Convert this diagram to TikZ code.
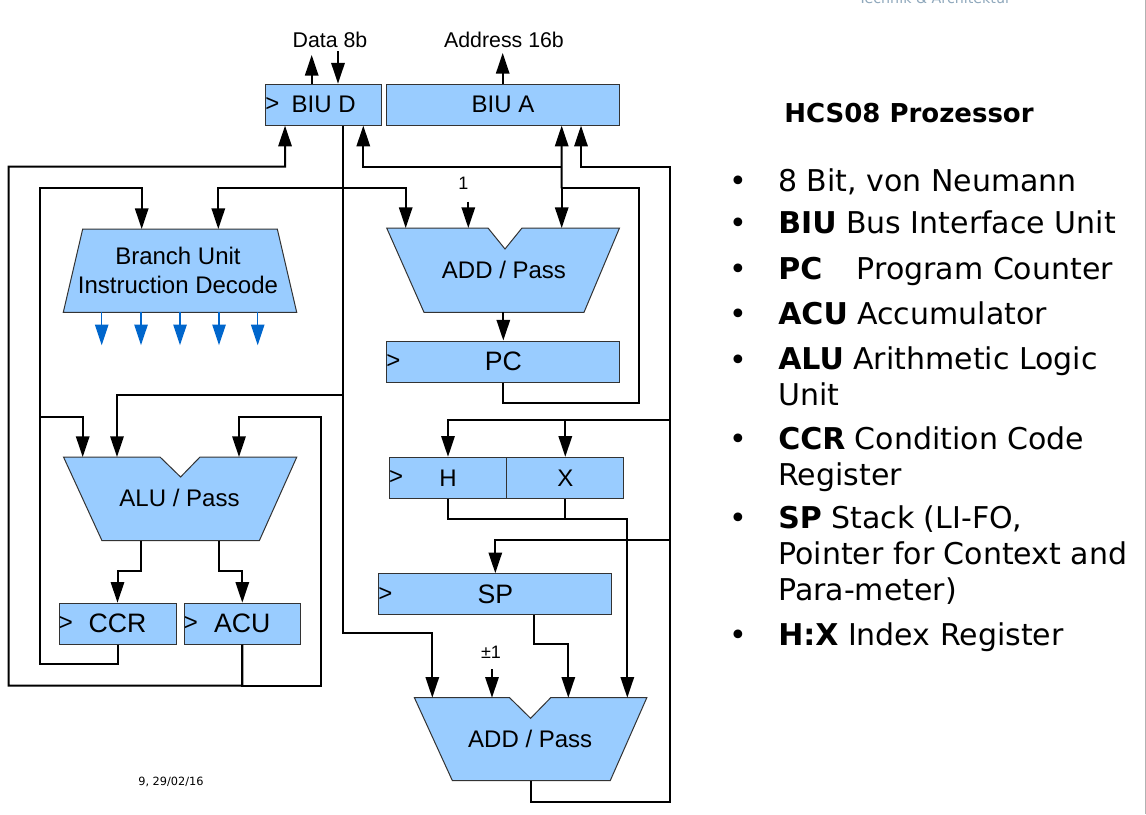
\documentclass[tikz,border=0pt]{standalone}
\usepackage{fontspec}
\setmainfont{Liberation Sans}
\newfontfamily\verd{DejaVu Sans}
\usetikzlibrary{arrows.meta}
\definecolor{boxblue}{HTML}{99CCFF}
\definecolor{boxline}{HTML}{333333}
\definecolor{ctlblue}{HTML}{0066CC}
\definecolor{hdrgray}{HTML}{8FA8BC}
\newcommand\boxfont{\fontsize{18}{21.6}\selectfont}
\newcommand\regfont{\fontsize{20}{24}\selectfont}
\newcommand\busfont{\fontsize{16}{19}\selectfont}
\newcommand\smlfont{\fontsize{13.5}{15}\selectfont}
\newcommand\itemfont{\verd\fontsize{22.5}{26.8}\selectfont}

\begin{document}
\begin{tikzpicture}
	[x=0.75pt,y=-0.75pt,
	bus/.style={line width=1.5pt},
	arr/.style={line width=1.5pt,-{Triangle[length=15.5pt,width=10pt]}},
	ctl/.style={line width=1.1pt,draw=ctlblue,fill=ctlblue,-{Triangle[length=15.5pt,width=10pt]}},
	reg/.style={draw=boxline,fill=boxblue,line width=0.75pt,inner sep=0pt,
		minimum height=30.75pt,font=\boxfont},
	clk/.style={label={[anchor=west,inner sep=0pt,font=\boxfont]west:>}},
	unit/.style={draw=boxline,fill=boxblue,line width=0.75pt},
	lbl/.style={inner sep=0pt,font=\boxfont,align=center},
	item/.style={anchor=base west,inner sep=0pt,align=left,font=\itemfont}]
	\path[use as bounding box,fill=white] (0,0) rectangle (1146,814);
	\draw[gray!60,line width=0.75pt] (1145.5,0) -- (1145.5,814);
	\node[anchor=base west,inner sep=0pt,text=hdrgray,font=\verd\fontsize{10.7}{12}\selectfont]
		(hdr) at (858,3) {Technik \& Architektur};
	
	% units
	\filldraw[unit] (82.7,229) -- (277.3,229) -- (296.7,312.3) -- (63.3,312.3) -- cycle;
	\filldraw[unit] (386.7,228) -- (488,228) -- (505,249) -- (522,228) -- (619.5,228)
		-- (584,312.3) -- (424,312.3) -- cycle;
	\filldraw[unit] (63.5,457) -- (160,457) -- (180.6,477) -- (200,457) -- (296.8,457)
		-- (259.3,540.7) -- (102,540.7) -- cycle;
	\filldraw[unit] (414.4,697.7) -- (509.6,697.7) -- (530.6,718.3) -- (550.7,697.7)
		-- (646.8,697.7) -- (610.2,780.7) -- (452.4,780.7) -- cycle;
	\node[lbl] (bu) at (178,270.8) {Branch Unit\\Instruction Decode};
	\node[lbl] (addpc) at (504,270) {ADD / Pass};
	\node[lbl] (alu) at (179.5,498) {ALU / Pass};
	\node[lbl] (addsp) at (530.2,739) {ADD / Pass};
	
	\coordinate (buA) at (141.7,229);
	\coordinate (buB) at (218.3,229);
	\coordinate (apA) at (405.7,228);
	\coordinate (apB) at (468.3,228);
	\coordinate (apC) at (561.7,228);
	\coordinate (apO) at (503.3,312.3);
	\coordinate (aluA) at (82.7,457);
	\coordinate (aluB) at (117,457);
	\coordinate (aluC) at (239,457);
	\coordinate (aluL) at (141.3,540.7);
	\coordinate (aluR) at (219,540.7);
	\coordinate (asA) at (432.3,697.7);
	\coordinate (asB) at (492,697.7);
	\coordinate (asC) at (568.3,697.7);
	\coordinate (asD) at (627.3,697.7);
	\coordinate (asO) at (530.6,780.7);
	
	% registers
	\node[reg,clk,minimum width=87pt] (biud) at (323.7,104.65) {BIU D};
	\node[reg,minimum width=174.5pt] (biua) at (503,104.65) {BIU A};
	\node[reg,clk,minimum width=175pt,font=\regfont] (pc) at (503.3,361.5) {PC};
	\node[reg,clk,minimum width=88pt] (hr) at (448,477.8) {H};
	\node[reg,minimum width=88pt] (xr) at (565.3,477.8) {X};
	\node[reg,clk,minimum width=175pt,font=\regfont] (sp) at (495.3,594.2) {SP};
	\node[reg,clk,minimum width=87.75pt,font=\regfont] (ccr) at (117.5,623.7) {CCR};
	\node[reg,clk,minimum width=87.2pt,font=\regfont] (acu) at (242.3,623.7) {ACU};
	
	\node[lbl,font=\busfont] (data) at (330,40) {Data 8b};
	\node[lbl,font=\busfont] (addr) at (504,40) {Address 16b};
	\node[lbl,font=\smlfont] (one) at (463.3,183) {1};
	\node[lbl,font=\smlfont] (pm) at (491,652) {±1};
	\coordinate (dout) at (311.7,55);
	\coordinate (din) at (338,51);
	\coordinate (aout) at (502.7,53);
	
	% external buses
	\draw[arr] (biud.north -| dout) -- (dout);
	\draw[arr] (din) -- (biud.north -| din);
	\draw[arr] (biua.north -| aout) -- (aout);
	
	% accumulator and ccr
	\draw[arr] (acu.south) |- (8.5,685.7) |- (285,166.7) -- ([xshift=-29pt]biud.south);
	\draw[arr] (acu.south) |- (321,685.7) |- (239,416.7) -- (aluC);
	\draw[arr] (ccr.south) |- (40.2,664.3) |- (141.7,188.3) -- (buA);
	\coordinate (ccrtap) at (40.2,416.7);
	\draw[arr] (ccrtap) -| (aluA);
	\draw[arr] (aluL) -- ++(0,30) -| (ccr.north);
	\draw[arr] (aluR) -- ++(0,30) -| (acu.north);
	
	% data bus
	\draw[arr] ([xshift=14.7pt]biud.south) |- (432.3,632.7) -- (asA);
	\coordinate (dt1) at (343.3,188.3);
	\coordinate (dt2) at (343.3,395);
	\draw[arr] (dt1) -| (buB);
	\draw[arr] (dt1) -| (apA);
	\draw[arr] (dt2) -| (aluB);
	\draw[arr] (apB |- 0,201.7) -- (apB);
	
	% program counter
	\coordinate (pcbus) at (561.7,188.3);
	\coordinate (pctap) at (561.7,166.7);
	\draw[bus] (pc.south) |- (639.3,403) |- (pcbus);
	\draw[arr] (pcbus) -- (apC);
	\draw[arr] (pcbus) -- ([xshift=44pt]biua.south);
	\draw[arr] (pctap) -| ([xshift=29.7pt]biud.south);
	\draw[arr] (apO) -- (pc.north);
	
	% address adder
	\coordinate (hxtap) at (670,420);
	\coordinate (sptap) at (670,540);
	\coordinate (hxbus) at (627.3,519.3);
	\draw[arr] (asO) |- (670,802) |- (581,166.7) -- ([xshift=58.5pt]biua.south);
	\draw[arr] (hxtap) -| (hr.north);
	\draw[arr] (xr.north |- hxtap) -- (xr.north);
	\draw[arr] (sptap) -| (sp.north);
	\draw[arr] (hr.south) |- (hxbus) -- (asD);
	\draw[bus] (xr.south) -- (xr.south |- hxbus);
	\draw[arr] ([xshift=29pt]sp.south) -- ++(0,28.3) -| (asC);
	\draw[arr] (asB |- 0,669) -- (asB);
	
	\foreach \x [count=\i] in {101.7,141,180,219,257.7}
	{
		\coordinate (ctl\i) at (\x,312.3);
		\draw[ctl] (ctl\i) -- ++(0,33);
	}
	
	\node[inner sep=0pt,font=\verd\fontsize{8.5}{10}\selectfont] (date) at (171,781.7) {9, 29/02/16};
	
	% description
	\node[anchor=base west,inner sep=0pt,font=\verd\bfseries\fontsize{19.5}{23}\selectfont]
		(title) at (784,122.7) {HCS08 Prozessor};
	\foreach \y [count=\i] in {191.7,233,279,324,370,449,528,645}
		\node[anchor=base,inner sep=0pt,font=\itemfont] (b\i) at (738,\y) {•};
	\node[item] (t1) at (778,191.7) {8 Bit, von Neumann};
	\node[item] (t2) at (778,233) {\textbf{BIU} Bus Interface Unit};
	\node[item] (t3) at (778,279) {\textbf{PC}\hspace{26pt}Program Counter};
	\node[item] (t4) at (778,324) {\textbf{ACU} Accumulator};
	\node[item] (t5) at (778,405) {\textbf{ALU} Arithmetic Logic\\Unit};
	\node[item] (t6) at (778,485) {\textbf{CCR} Condition Code\\Register};
	\node[item] (t7) at (778,600) {\textbf{SP} Stack (LI-FO,\\Pointer for Context and\\Para-meter)};
	\node[item] (t8) at (778,645) {\textbf{H:X} Index Register};
\end{tikzpicture}
\end{document}
